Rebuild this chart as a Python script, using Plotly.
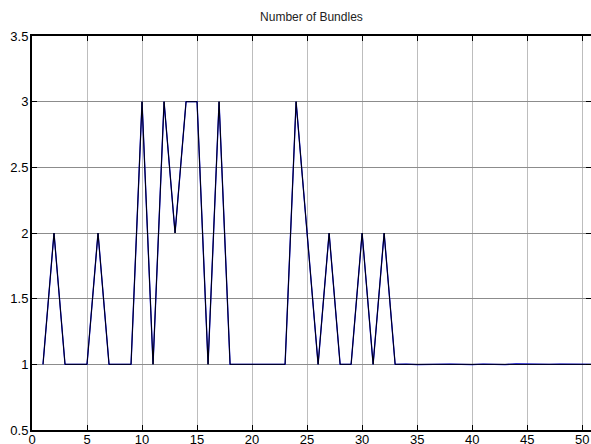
import plotly.graph_objects as go

iterations = list(range(1, 52))
bundles = [1, 2, 1, 1, 1, 2, 1, 1, 1, 3,
           1, 3, 2, 3, 3, 1, 3, 1, 1, 1,
           1, 1, 1, 3, 2, 1, 2, 1, 1, 2,
           1, 2, 1, 1, 1, 1, 1, 1, 1, 1,
           1, 1, 1, 1, 1, 1, 1, 1, 1, 1, 1]
bundles_blue = [1, 2, 1, 1, 1, 2, 1, 1, 1, 3,
                1, 3, 2, 3, 3, 1, 3, 1, 1, 1,
                1, 1, 1, 3, 2, 1, 2, 1, 1, 2,
                1, 2, 1, 1.002, 0.998, 1, 1.002, 1.002, 1, 0.998,
                1.002, 1, 0.998, 1.004, 1.002, 0.998, 1, 1.002, 1.002, 1.002, 1]
x_ticks = [0, 5, 10, 15, 20, 25, 30, 35, 40, 45, 50]
y_ticks = [0.5, 1, 1.5, 2, 2.5, 3, 3.5]
y_tick_text = ["0.5", "1", "1.5", "2", "2.5", "3", "3.5"]

fig = go.Figure()
fig.add_trace(go.Scatter(x=iterations, y=bundles_blue, mode="lines",
                         line=dict(color="#0000ff", width=1.3), showlegend=False))
fig.add_trace(go.Scatter(x=iterations, y=bundles, mode="lines",
                         line=dict(color="#000000", width=1), showlegend=False))

fig.update_layout(
    width=591, height=444,
    margin=dict(l=32, r=0, t=36, b=14, autoexpand=False),
    paper_bgcolor="white", plot_bgcolor="white",
    font=dict(family="Liberation Sans, Arial, sans-serif", size=12, color="black"),
    title=dict(text="Number of Bundles", x=0.527, xanchor="center", y=0.962, yanchor="middle",
               font=dict(size=12, color="#222")),
)
fig.update_xaxes(range=[0, 50.8], tickvals=x_ticks, ticks="inside", ticklen=5,
                 tickcolor="black", showline=True, linecolor="black", linewidth=2,
                 mirror="ticks", showgrid=True, gridcolor="#bdbdbd", gridwidth=1,
                 zeroline=False, tickfont=dict(size=13), automargin=False,
                 ticklabelstandoff=-4)
fig.update_yaxes(range=[0.5, 3.5], tickvals=y_ticks, ticktext=y_tick_text, ticks="inside",
                 ticklen=5, tickcolor="black", showline=True, linecolor="black", linewidth=2,
                 mirror="ticks", showgrid=True, gridcolor="#8c8c8c", gridwidth=1,
                 zeroline=False, tickfont=dict(size=13), automargin=False,
                 ticklabelstandoff=-1)

fig.write_html(
    "out.html",
    config={"displayModeBar": False},
    post_script="document.body.style.margin='0';document.body.style.overflow='hidden';",
)
